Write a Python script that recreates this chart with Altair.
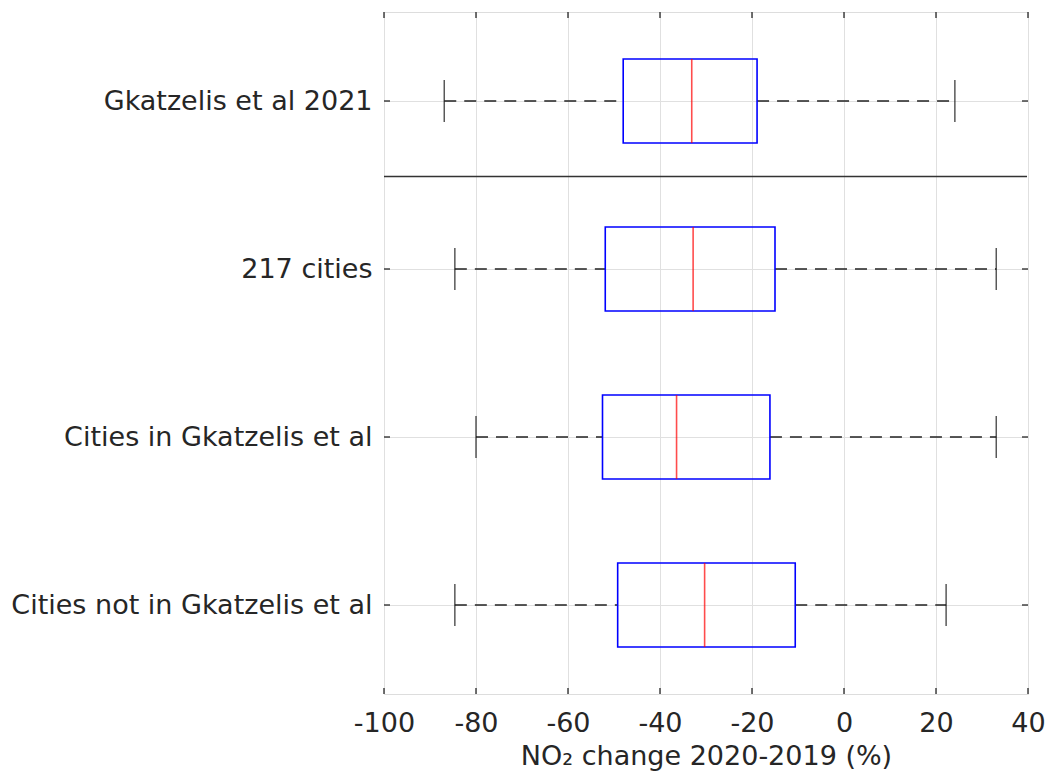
import altair as alt
import pandas as pd

# Box-plot summaries of the NO2 change (%) for each group, top to bottom
groups = ["Gkatzelis et al 2021", "217 cities", "Cities in Gkatzelis et al", "Cities not in Gkatzelis et al"]
row_pos = [4, 3, 2, 1]
whisker_low = [-86.9, -84.6, -80.0, -84.6]
q1 = [-48.0, -51.9, -52.5, -49.2]
median = [-33.1, -32.8, -36.4, -30.3]
q3 = [-18.9, -15.0, -16.1, -10.6]
whisker_high = [24.1, 33.1, 33.1, 22.2]

x_ticks = [-100, -80, -60, -40, -20, 0, 20, 40]
separator_y = [3.55]

W, H = 644, 682
FONT = "DejaVu Sans"
INK = "#262626"
GRID = "#e0e0e0"
FS = 27

df = pd.DataFrame({
    "group": groups, "row": row_pos, "lo": whisker_low, "q1": q1,
    "med": median, "q3": q3, "hi": whisker_high,
})
ticks_df = pd.DataFrame({"t": x_ticks})
rows_df = pd.DataFrame({"row": row_pos})
sep_df = pd.DataFrame({"y": separator_y})

label_expr = " : ".join(
    f"datum.value == {r} ? '{g}'" for r, g in zip(row_pos, groups)
) + " : ''"

x_scale = alt.Scale(domain=[-100, 40], nice=False, zero=False)
y_scale = alt.Scale(domain=[0.5, 4.5], nice=False, zero=False)

x_axis = alt.Axis(
    values=x_ticks, grid=True, gridColor=GRID, gridWidth=1, domain=False,
    ticks=False, labelFont=FONT, labelFontSize=FS, labelColor=INK,
    labelPadding=16, labelExpr="'' + datum.value", labelOverlap=False,
    labelFlush=False,
    title="NO₂ change 2020-2019 (%)", titleFont=FONT,
    titleFontSize=FS, titleFontWeight="normal", titleColor=INK, titlePadding=7,
)
y_axis = alt.Axis(
    values=row_pos, grid=True, gridColor=GRID, gridWidth=1, domain=False,
    ticks=False, labelFont=FONT, labelFontSize=FS, labelColor=INK,
    labelPadding=12, labelLimit=420, labelExpr=label_expr, title=None,
)

base = alt.Chart(df)

# whiskers: dashed from lower whisker to Q1 and from Q3 to upper whisker
whisk_lo = base.mark_rule(color="#222222", strokeWidth=1.5, strokeDash=[12, 8]).encode(
    x=alt.X("lo:Q", scale=x_scale, axis=x_axis),
    x2="q1:Q",
    y=alt.Y("row:Q", scale=y_scale, axis=y_axis),
)
whisk_hi = base.mark_rule(color="#222222", strokeWidth=1.5, strokeDash=[12, 8]).encode(
    x=alt.X("q3:Q", scale=x_scale), x2="hi:Q", y=alt.Y("row:Q", scale=y_scale),
)
cap_lo = base.mark_tick(orient="vertical", size=42, thickness=1.5, color="#111111").encode(
    x=alt.X("lo:Q", scale=x_scale), y=alt.Y("row:Q", scale=y_scale),
)
cap_hi = base.mark_tick(orient="vertical", size=42, thickness=1.5, color="#111111").encode(
    x=alt.X("hi:Q", scale=x_scale), y=alt.Y("row:Q", scale=y_scale),
)
box = base.mark_bar(orient="horizontal", size=84, fill="white", fillOpacity=0,
                    stroke="#0000ff", strokeWidth=1.6).encode(
    x=alt.X("q1:Q", scale=x_scale), x2="q3:Q", y=alt.Y("row:Q", scale=y_scale),
)
med = base.mark_tick(orient="vertical", size=84, thickness=1.6, color="#ff0000").encode(
    x=alt.X("med:Q", scale=x_scale), y=alt.Y("row:Q", scale=y_scale),
)

# divider under the literature reference row
sep = alt.Chart(sep_df).mark_rule(color="#333333", strokeWidth=1.5).encode(
    y=alt.Y("y:Q", scale=y_scale), x=alt.value(0), x2=alt.value(W - 1),
)

# inward tick marks on all four sides
tick_style = dict(color=INK, strokeWidth=1.3)
top_ticks = alt.Chart(ticks_df).mark_rule(**tick_style).encode(
    x=alt.X("t:Q", scale=x_scale), y=alt.value(0), y2=alt.value(6),
)
bottom_ticks = alt.Chart(ticks_df).mark_rule(**tick_style).encode(
    x=alt.X("t:Q", scale=x_scale), y=alt.value(H - 6), y2=alt.value(H),
)
left_ticks = alt.Chart(rows_df).mark_rule(**tick_style).encode(
    y=alt.Y("row:Q", scale=y_scale), x=alt.value(0), x2=alt.value(6),
)
right_ticks = alt.Chart(rows_df).mark_rule(**tick_style).encode(
    y=alt.Y("row:Q", scale=y_scale), x=alt.value(W - 6), x2=alt.value(W),
)

chart = alt.layer(
    whisk_lo, whisk_hi, cap_lo, cap_hi, box, med, sep,
    top_ticks, bottom_ticks, left_ticks, right_ticks,
).properties(
    width=W, height=H,
    autosize=alt.AutoSizeParams(type="none"),
    padding={"left": 384, "top": 12, "right": 24, "bottom": 86},
).configure_view(
    stroke=INK, strokeWidth=1.5,
).configure(background="white")

chart.save("out.html", embed_options={"renderer": "svg", "actions": False})
